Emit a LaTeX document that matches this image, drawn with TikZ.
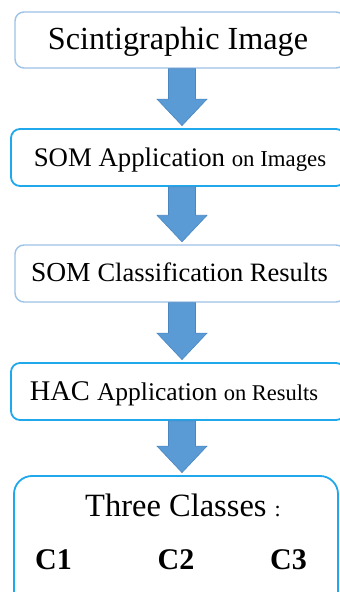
\documentclass[tikz,border=0pt]{standalone}
\usepackage{fontspec}
\setmainfont{Liberation Serif}
\usetikzlibrary{calc}
\definecolor{paleedge}{HTML}{9DC3E6}
\definecolor{brightedge}{HTML}{1FA8EC}
\definecolor{arrowfill}{HTML}{5B9BD5}
\definecolor{arrowedge}{HTML}{4A86C0}
\newcommand{\fs}[1]{\fontsize{#1}{#1}\selectfont}
% block arrow from the bottom of one box to the top of the next
\newcommand{\flowarrow}[2]{%
  \filldraw[fill=arrowfill, draw=arrowedge, line width=0.6pt, line join=miter]
    let \p1=(#1.south), \p2=(#2.north) in
    (168.5pt,\y1) -- (195.5pt,\y1) -- (195.5pt,\y2+29pt) -- (207pt,\y2+29pt)
    -- (182pt,\y2+2.5pt) -- (157pt,\y2+29pt) -- (168.5pt,\y2+29pt) -- cycle;}
\begin{document}
\begin{tikzpicture}[x=1pt,y=1pt,
  stage/.style={draw, fill=white, rounded corners=9pt, inner sep=0pt},
  pale/.style={stage, draw=paleedge, line width=1.4pt},
  bright/.style={stage, draw=brightedge, line width=1.8pt},
  txt/.style={anchor=base, inner sep=0pt, text=black}]
\clip (0,0) rectangle (340,592);
\fill[white] (0,0) rectangle (340,592);

% stage boxes
\node[pale,   minimum width=330, minimum height=56] (b1) at (180,552)   {};
\node[bright, minimum width=334, minimum height=57] (b2) at (178,434.5) {};
\node[pale,   minimum width=330, minimum height=57] (b3) at (180,318.5) {};
\node[bright, minimum width=334, minimum height=57] (b4) at (178,200.5) {};
\node[bright, minimum width=324, minimum height=134, rounded corners=18pt] (b5) at (176,49) {};

% block arrows
\flowarrow{b1}{b2}
\flowarrow{b2}{b3}
\flowarrow{b3}{b4}
\flowarrow{b4}{b5}

% labels
\node[txt] (t1) at (178,542) {\fs{32.2}Scintigraphic Image};
\node[txt] (t2) at (180,425) {\fs{26.8}SOM Application \fs{22.8}on Images};
\node[txt] (t3) at (179.5,310) {\fs{27.5}SOM \fs{26.5}Classification Results};
\node[txt] (t4) at (174,191) {\fs{28.5}HAC \fs{25.5}Application \fs{22.5}on Results};
\node[txt] (t5) at (183,75) {\fs{32.5}Three Classes \fs{22}:};
\node[txt] (c1) at (53.5,22) {\fs{30}\bfseries C1};
\node[txt] (c2) at (176,22) {\fs{30}\bfseries C2};
\node[txt] (c3) at (288.5,22) {\fs{30}\bfseries C3};
\end{tikzpicture}
\end{document}
